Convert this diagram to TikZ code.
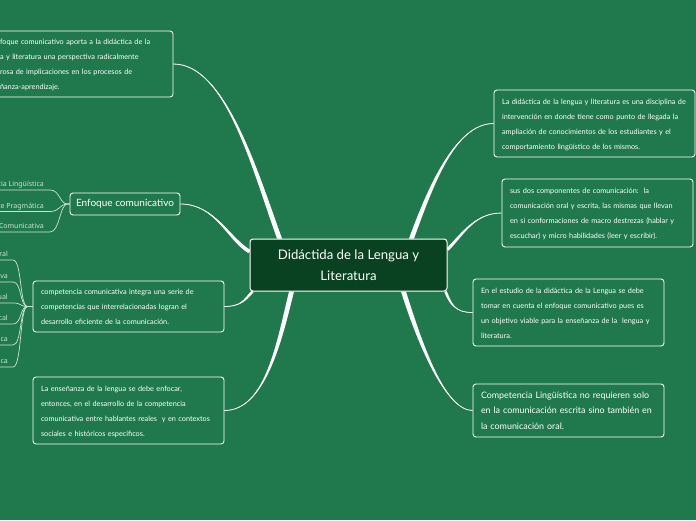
\documentclass[tikz,border=0pt]{standalone}
\usepackage{fontspec}
\setmainfont{Lato}
\newfontfamily\labfont{Noto Sans}
\usetikzlibrary{calc}
\definecolor{bggreen}{RGB}{32,121,76}
\definecolor{darkgreen}{RGB}{8,66,32}
\definecolor{subline}{RGB}{205,226,212}
\pgfdeclarelayer{background}
\pgfsetlayers{background,main}
% tapered branch: start, control offset from start, control offset from end, end, half-width vector
\newcommand\branch[5]{%
  \fill[white] (#1) .. controls +(#2) and +(#3) .. ($(#4)+(#5)$) -- ($(#4)-(#5)$) .. controls +(#3) and +(#2) .. (#1) -- cycle;
  \draw[white,line width=0.8pt] (#1) .. controls +(#2) and +(#3) .. (#4);}
\newcommand\lines[1]{\begin{tabular}{@{}l@{}}#1\end{tabular}}
\begin{document}
\begin{tikzpicture}[x=1pt,y=-1pt,
  box/.style={draw=white,line width=0.9pt,rounded corners=3pt,inner xsep=8pt,inner ysep=0pt,
    align=left,text=white,font=\fontsize{7.3}{15}\selectfont},
  hub/.style={draw=white,line width=1pt,fill=darkgreen,rounded corners=3pt,align=center,text=white,
    font=\fontsize{13.2}{21}\selectfont,minimum width=197pt,minimum height=52pt,inner sep=0pt},
  topic/.style={draw=white,line width=0.9pt,rounded corners=3pt,text=white,font=\fontsize{10}{12}\selectfont,
    minimum width=110pt,minimum height=22pt,inner sep=0pt},
  lab/.style={text=subline,font=\labfont\fontsize{7}{8}\selectfont,inner sep=0pt,anchor=base east},
  subl/.style={draw=subline,line width=0.7pt}]
\useasboundingbox (0,0) rectangle (696,520);
\begin{pgfonlayer}{background}
\fill[bggreen] (0,0) rectangle (696,520);
\end{pgfonlayer}
\clip (0,0) rectangle (696,520);

% central node
\node[hub] (c) at (348.5,265) {Didáctida de la Lengua y\\Literatura};

% left side
\node[box,text width=165pt,minimum height=66pt] (tl) at (82.5,64) {\lines{%
foque comunicativo aporta a la didáctica de la\\
a y literatura una perspectiva radicalmente\\
rosa de implicaciones en los procesos de\\
ñanza-aprendizaje.}};
\node[topic] (enf) at (125,204) {Enfoque comunicativo};
\node[box,text width=175pt,minimum height=51pt] (comp) at (128.5,306.5) {\lines{%
competencia comunicativa integra una serie de\\
competencias que interrelacionadas logran el\\
desarrollo eficiente de la comunicación.}};
\node[box,text width=175pt,minimum height=67pt] (ens) at (128.5,410.5) {\lines{%
La enseñanza de la lengua se debe enfocar,\\
entonces, en el desarrollo de la competencia\\
comunicativa entre hablantes reales\ \ y en contextos\\
sociales e históricos específicos.}};

% right side
\node[box,text width=185pt,minimum height=67pt] (r1) at (594.5,123.5) {\lines{%
La didáctica de la lengua y literatura es una disciplina de\\
intervención en donde tiene como punto de llegada la\\
ampliación de conocimientos de los estudiantes y el\\
comportamiento lingüístico de los mismos.}};
\node[box,text width=175pt,minimum height=68pt] (r2) at (597.5,213) {\lines{%
sus dos componentes de comunicación:\ \ la\\
comunicación oral y escrita, las mismas que llevan\\
en si conformaciones de macro destrezas (hablar y\\
escuchar) y micro habilidades (leer y escribir).}};
\node[box,text width=175pt,minimum height=67pt] (r3) at (568.5,312.5) {\lines{%
En el estudio de la didáctica de la Lengua se debe\\
tomar en cuenta el enfoque comunicativo pues es\\
un objetivo viable para la enseñanza de la\ \ lengua y\\
literatura.}};
\node[box,text width=175pt,minimum height=53pt,font=\fontsize{8.9}{15.5}\selectfont] (r4) at (568.5,410.5) {\lines{%
Competencia Lingüística no requieren solo\\
en la comunicación escrita sino también en\\
la comunicación oral.}};

% branches
\begin{pgfonlayer}{background}
\branch{tl.east}{52,0}{-25,-69}{$(c.north west)+(30,0)$}{2.5,0}
\branch{enf.east}{35,0}{-21,-12}{$(c.north west)+(0,13)$}{-1,1.6}
\branch{comp.east}{16,0}{-8,9}{$(c.south west)+(3,0)$}{1,0.8}
\branch{ens.east}{41,0}{-12,49}{$(c.south west)+(42,0)$}{2.5,0}
\branch{r1.west}{-39,0}{18,-49}{$(c.north west)+(162,0)$}{2.5,0}
\branch{r2.west}{-27,0}{15,-15}{$(c.north east)+(0,11)$}{1.1,1.1}
\branch{r3.west}{-18,0}{5,12}{$(c.south east)+(-2,0)$}{1.2,-0.5}
\branch{r4.west}{-28,0}{15,48}{$(c.south east)+(-44,0)$}{2.5,0}
\end{pgfonlayer}

% sub-topics of Enfoque comunicativo
\foreach \t/\y [count=\i] in {cia Lingüística/190,te Pragmática/211.5,Comunicativa/232}{
  \node[lab] (el\i) at (44,\y-3.5) {\t};
  \coordinate (ea\i) at (0,\y);
  \coordinate (eb\i) at (50,\y);
  \begin{pgfonlayer}{background}
  \draw[subl] (ea\i) -- (eb\i) .. controls +(10,0) and +(-8,0) .. ($(enf.west)+(-2,0)$) -- (enf.west);
  \end{pgfonlayer}
}
% sub-topics of competencia comunicativa
\foreach \t/\y [count=\i] in {ral/260,va/282,ual/303,cal/324,ca/345,ca/367}{
  \node[lab] (cl\i) at (8,\y-3.5) {\t};
  \coordinate (ca\i) at (0,\y);
  \coordinate (cb\i) at (13,\y);
  \begin{pgfonlayer}{background}
  \draw[subl] (ca\i) -- (cb\i) .. controls +(9,0) and +(-8,0) .. ($(comp.west)+(-5,0)$) -- (comp.west);
  \end{pgfonlayer}
}
\end{tikzpicture}
\end{document}
